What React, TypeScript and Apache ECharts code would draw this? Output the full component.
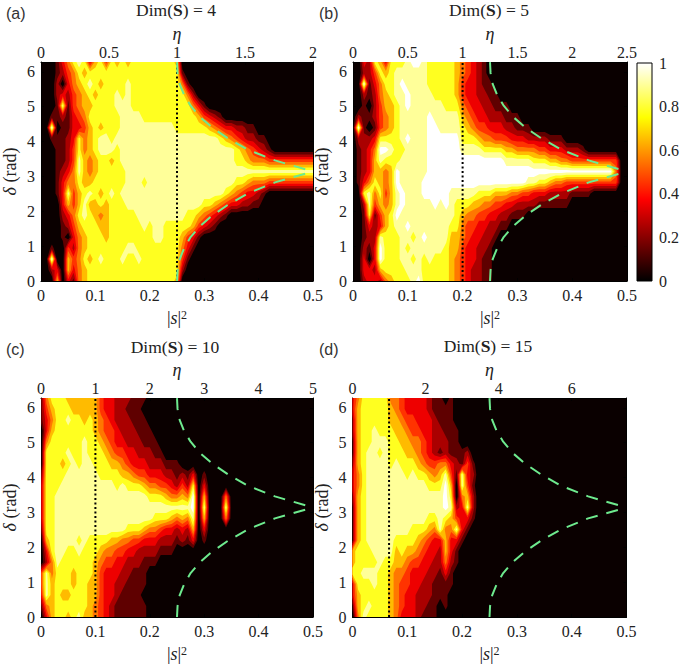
import React, { useEffect, useRef } from "react";
import * as echarts from "echarts";

// Band index (0-9): one string per delta row, from delta = 2*pi (top) to 0,
// one digit per |s|^2 column (step 0.01, grouped by five); missing columns are band 0.
const PANEL_A = [
  "00013 57873 67476 76777 77777 6",
  "00012 45767 77777 77777 77777 71",
  "00020 35678 76777 78777 77777 751",
  "00023 24567 67778 78777 77777 7752",
  "00018 14566 77778 88777 77777 77753 1",
  "00112 13457 77777 88887 77777 77776 4321",
  "00901 13346 76777 88888 88888 77777 76543 32211",
  "00111 23756 78878 88888 88888 88888 88876 54322 11",
  "00011 24756 78887 88888 88888 88888 88888 87654 321",
  "00011 24865 67767 88888 88888 88888 88888 87765 55444 44444 4",
  "00012 35865 67777 78888 88888 88888 88888 88888 88888 88888 8",
  "00013 55766 77777 78887 88888 88888 88888 87765 55444 44444 4",
  "00013 84678 76787 88888 88888 88888 88887 65433 21",
  "00003 64686 67677 78888 88888 88888 77654 33221 1",
  "00002 35787 65677 77788 88888 88776 54321",
  "00001 24677 76677 77778 78877 77764 321",
  "00001 03567 77677 77777 78877 76431",
  "00100 42567 77777 78877 77777 7531",
  "00900 64576 78777 87787 77777 741",
  "00230 63567 77777 77777 77777 72",
  "00060 31567 77777 77777 77777 6",
];
const PANEL_B = [
  "00327 63777 89987 77776 54321",
  "00224 76788 88887 77776 54321",
  "00913 57789 88887 77776 43321 1",
  "00212 56788 98888 77776 43322 11",
  "00102 46678 98888 88777 54332 2111",
  "02112 45678 88889 88888 65433 22211 1",
  "09101 45678 88889 98888 76544 33322 111",
  "02223 77778 98889 99999 77765 54443 33222 2111",
  "01235 99877 88889 99999 88887 77766 55554 43332 221",
  "01236 87778 88889 99999 99999 99988 88877 76655 44444 4444",
  "01236 65698 88889 99999 99999 99999 99999 99999 99999 99950",
  "01357 65698 88899 99999 99999 99999 99887 76554 44444 4444",
  "00785 74689 88899 99988 88877 76665 54433 32222 1111",
  "00284 65689 88888 98987 77665 54433 22221 11111",
  "00171 46798 88888 88887 65544 33221 11",
  "00132 36788 98888 88877 54433 2211",
  "00122 87778 87898 88866 54332 21",
  "00213 97778 78888 88766 43322 1",
  "00303 97778 87878 77765 43321 1",
  "00332 67777 88877 77765 43221 1",
  "00233 25677 78977 77765 43221 1",
];
const PANEL_C = [
  "15777 66666 64332 22111",
  "14677 76666 64332 2111",
  "13577 87767 65432 22111",
  "03677 77777 65443 22211 1",
  "05777 77787 76543 32221 11",
  "07777 87787 77654 43322 211",
  "07776 78788 77766 54333 22211 1",
  "17777 88888 87777 66544 33322 12130 1",
  "27778 88888 88887 87776 55443 24270 3",
  "27788 88888 88888 88888 77765 56590 60005",
  "27788 88888 88888 88888 88888 88890 80008",
  "27788 88888 88888 88888 87776 56580 60005",
  "17788 88888 88888 87776 55433 23260 3",
  "06788 88787 77766 55443 33222 12130 1",
  "03788 77877 76554 43322 22111",
  "02587 77777 65443 32221 11",
  "48577 76777 64333 22111",
  "48677 76776 64332 21111",
  "38676 67776 64332 1111",
  "15677 77776 54321 11111",
  "03677 67866 54321 11111",
];
const PANEL_D = [
  "35777 77554 33332 1101",
  "36777 77654 33332 1111",
  "26777 77665 44333 2111",
  "26778 77766 54433 22111",
  "16778 88776 65543 22211",
  "16788 78777 66543 21211 12",
  "26788 88787 77654 45532 141",
  "35788 88888 78776 56841 832",
  "35788 88888 88887 77960 841",
  "26788 88888 88888 88970 562",
  "16788 88888 88888 88982 382",
  "16788 88888 88887 78764 331",
  "16788 88888 87776 58558 31",
  "16788 88877 77654 33633 1",
  "67778 88867 66543 32631",
  "67777 87766 54433 22521",
  "77888 77655 43332 2131",
  "37778 77654 43322 1111",
  "36777 77654 33222 111",
  "16787 77654 33221 101",
  "05877 77653 33211 1",
];
const S_STEP = 0.01;
const DELTA_MAX = 6.2832;
const DELTA_STEP = 0.31416;
const BAND_COLORS = ["#0a0000", "#5f0000", "#aa0000", "#ee0000", "#ff3300", "#ff7700", "#ffbb00", "#ffff20", "#ffff99", "#ffffff"];
const BAND_INDEX = [1, 2, 3, 4, 5, 6, 7, 8, 9];

const TITLES = ["4", "5", "10", "15"];
const TAGS = ["(a)", "(b)", "(c)", "(d)"];
const ETA_MAX = [2, 2.5, 5, 7.5];
const ETA_TICK = [0.5, 0.5, 1, 2];
const ETA_ONE_S = [0.25, 0.2, 0.1, 0.0667];

// Dashed curve.
const CURVE_S = [0.25, 0.251, 0.255, 0.263, 0.275, 0.292, 0.315, 0.345, 0.38, 0.43, 0.5];
const CURVE_LOWER_DELTA = [0, 0.31, 0.63, 0.94, 1.26, 1.57, 1.88, 2.2, 2.51, 2.83, 3.14];
const CURVE_UPPER_DELTA = [6.28, 5.97, 5.65, 5.34, 5.03, 4.71, 4.4, 4.08, 3.77, 3.46, 3.14];

const COLORBAR_STOPS: [number, string][] = [[0, "#000000"], [0.375, "#ff0000"], [0.75, "#ffff00"], [1, "#ffffff"]];

const SERIF = "'Liberation Serif', serif";
const LAYOUT = [
  { left: 39, top: 62, tagX: 6, tagY: 5, titleX: 176, titleY: 1 },
  { left: 353, top: 62, tagX: 319, tagY: 5, titleX: 489, titleY: 1 },
  { left: 39, top: 398, tagX: 6, tagY: 341, titleX: 175, titleY: 338 },
  { left: 352.5, top: 398, tagX: 319, tagY: 341, titleX: 488, titleY: 337 },
];
const W = 274;
const H = 219;

function parsePanel(rows: string[]): number[][] {
  // result[r][c], r = 0 at delta = 0
  return rows
    .slice()
    .reverse()
    .map((row) => {
      const chars = row.replace(/ /g, "");
      const out: number[] = [];
      for (let i = 0; i <= 50; i++) {
        const d = i < chars.length ? Number(chars[i]) : 0;
        out.push(d === 0 ? 0 : d + 0.5);
      }
      return out;
    });
}

type P = [number, number, number];

function clipPolygon(poly: P[], level: number): P[] {
  const out: P[] = [];
  for (let i = 0; i < poly.length; i++) {
    const a = poly[i];
    const b = poly[(i + 1) % poly.length];
    const ina = a[2] >= level;
    const inb = b[2] >= level;
    if (ina) out.push(a);
    if (ina !== inb) {
      const t = (level - a[2]) / (b[2] - a[2]);
      out.push([a[0] + t * (b[0] - a[0]), a[1] + t * (b[1] - a[1]), level]);
    }
  }
  return out;
}

function polyPath(pts: P[]): string {
  return "M" + pts.map((p) => p[0].toFixed(1) + " " + p[1].toFixed(1)).join("L") + "Z";
}

function bandPath(matrix: number[][], level: number, api: any): string {
  const nr = matrix.length;
  const nc = matrix[0].length;
  const xy: number[][][] = [];
  for (let r = 0; r < nr; r++) {
    xy.push([]);
    for (let c = 0; c < nc; c++) {
      xy[r].push(api.coord([c * S_STEP, Math.min(r * DELTA_STEP, DELTA_MAX)]));
    }
  }
  let d = "";
  const node = (r: number, c: number): P => [xy[r][c][0], xy[r][c][1], matrix[r][c]];
  for (let r = 0; r < nr - 1; r++) {
    for (let c = 0; c < nc - 1; c++) {
      const quad = [node(r, c), node(r, c + 1), node(r + 1, c + 1), node(r + 1, c)];
      const poly = clipPolygon(quad, level);
      if (poly.length >= 3) d += polyPath(poly);
    }
  }
  return d;
}

function buildOption() {
  const panels = [PANEL_A, PANEL_B, PANEL_C, PANEL_D].map(parsePanel);
  const grid: any[] = [];
  const xAxis: any[] = [];
  const yAxis: any[] = [];
  const series: any[] = [];
  const title: any[] = [];
  const graphicEls: any[] = [];
  const baseText = { fontFamily: SERIF, fontSize: 16, color: "#222" };
  const tick = { show: true, inside: true, length: 3, lineStyle: { color: "#000", width: 1 } };
  const line = { show: true, onZero: false, lineStyle: { color: "#000", width: 1 } };
  const nameRich = {
    i: { fontFamily: SERIF, fontSize: 18, fontStyle: "italic", color: "#222" },
    n: { fontFamily: SERIF, fontSize: 18, color: "#222" },
    u: { fontFamily: SERIF, fontSize: 12, color: "#222", verticalAlign: "top", padding: [0, 0, 5, 0] },
  };

  panels.forEach((matrix, i) => {
    const lay = LAYOUT[i];
    grid.push({ left: lay.left, top: lay.top, width: W, height: H, show: true, backgroundColor: BAND_COLORS[0], borderWidth: 0, containLabel: false });
    xAxis.push({
      gridIndex: i, type: "value", position: "bottom", min: 0, max: 0.5, interval: 0.1,
      axisLine: line, axisTick: tick, splitLine: { show: false },
      axisLabel: { ...baseText, margin: 6 },
      name: "{n||}{i|s}{n||}{u|2}", nameLocation: "middle", nameGap: 28,
      nameTextStyle: { ...baseText, rich: nameRich },
    });
    xAxis.push({
      gridIndex: i, type: "value", position: "top", min: 0, max: ETA_MAX[i], interval: ETA_TICK[i],
      axisLine: line, axisTick: tick, splitLine: { show: false },
      axisLabel: { ...baseText, margin: 2, showMaxLabel: i !== 3 },
      name: "η", nameLocation: "middle", nameGap: 18,
      nameTextStyle: { fontFamily: SERIF, fontSize: 18, fontStyle: "italic", color: "#222" },
    });
    yAxis.push({
      gridIndex: i, type: "value", position: "left", min: 0, max: DELTA_MAX, interval: 1,
      axisLine: line, axisTick: tick, splitLine: { show: false },
      axisLabel: { ...baseText, margin: 6, showMaxLabel: false },
      name: "{i|δ}{n| (rad)}", nameLocation: "middle", nameGap: 22, nameRotate: 90,
      nameTextStyle: { ...baseText, rich: nameRich },
    });
    yAxis.push({
      gridIndex: i, type: "value", position: "right", min: 0, max: DELTA_MAX, interval: 1,
      axisLine: line, axisTick: tick, splitLine: { show: false }, axisLabel: { show: false },
    });
    const xIdx = i * 2;
    const yIdx = i * 2;
    BAND_INDEX.forEach((level) => {
      series.push({
        type: "custom", xAxisIndex: xIdx, yAxisIndex: yIdx, silent: true, z: 1 + level * 0.01,
        data: [[0, 0, level]], encode: { x: 0, y: 1 },
        renderItem: (_p: any, api: any) => ({
          type: "path",
          shape: { pathData: bandPath(matrix, level, api) },
          style: { fill: BAND_COLORS[level] },
        }),
      });
    });
    series.push({
      type: "line", xAxisIndex: xIdx, yAxisIndex: yIdx, z: 3, showSymbol: false, silent: true,
      data: [[ETA_ONE_S[i], 0], [ETA_ONE_S[i], DELTA_MAX]],
      lineStyle: { color: "#000", width: 2, type: [2, 2.5] },
    });
    [CURVE_LOWER_DELTA, CURVE_UPPER_DELTA].forEach((deltas) => {
      series.push({
        type: "line", xAxisIndex: xIdx, yAxisIndex: yIdx, z: 4, showSymbol: false, silent: true,
        data: CURVE_S.map((s, k) => [s, deltas[k]]),
        lineStyle: { color: "#6eea8e", width: 2, type: [12, 9] },
      });
    });
    title.push({
      text: "Dim({b|S}) = " + TITLES[i], left: lay.titleX, top: lay.titleY, textAlign: "center", padding: 0,
      textStyle: {
        fontFamily: SERIF, fontSize: 17.5, fontWeight: "normal", color: "#222",
        rich: { b: { fontFamily: SERIF, fontSize: 17.5, fontWeight: "bold", color: "#222" } },
      },
    });
    graphicEls.push({
      type: "text", left: lay.tagX, top: lay.tagY,
      style: { text: TAGS[i], fontFamily: "'Liberation Sans', sans-serif", fontSize: 16, fill: "#333" },
    });
  });

  // colour bar
  const cb = panels.length;
  grid.push({ left: 637, top: 63, width: 19, height: 218, show: false });
  xAxis.push({ gridIndex: cb, type: "value", min: 0, max: 1, show: false });
  yAxis.push({
    gridIndex: cb, type: "value", position: "right", min: 0, max: 1, interval: 0.2,
    axisLine: { show: false }, axisTick: { show: false }, splitLine: { show: false },
    axisLabel: { ...baseText, margin: 7 },
  });
  series.push({
    type: "custom", xAxisIndex: panels.length * 2, yAxisIndex: panels.length * 2, silent: true, z: 2,
    data: [[0, 0]], encode: { x: 0, y: 1 },
    renderItem: (_p: any, api: any) => {
      const lo = api.coord([0, 0]);
      const hi = api.coord([1, 1]);
      return {
        type: "rect",
        shape: { x: lo[0], y: hi[1], width: hi[0] - lo[0], height: lo[1] - hi[1] },
        style: {
          stroke: "#000", lineWidth: 1,
          fill: new echarts.graphic.LinearGradient(0, 1, 0, 0, COLORBAR_STOPS.map(([offset, color]) => ({ offset, color }))),
        },
      };
    },
  });

  return { animation: false, backgroundColor: "#ffffff", grid, xAxis, yAxis, series, title, graphic: { elements: graphicEls } };
}

export default function App() {
  const ref = useRef<HTMLDivElement>(null);
  useEffect(() => {
    if (!ref.current) return;
    const chart = echarts.init(ref.current, undefined, { renderer: "svg" });
    chart.setOption(buildOption() as any);
    return () => chart.dispose();
  }, []);
  return <div ref={ref} style={{ position: "absolute", left: 0, top: 0, width: 682, height: 665 }} />;
}
